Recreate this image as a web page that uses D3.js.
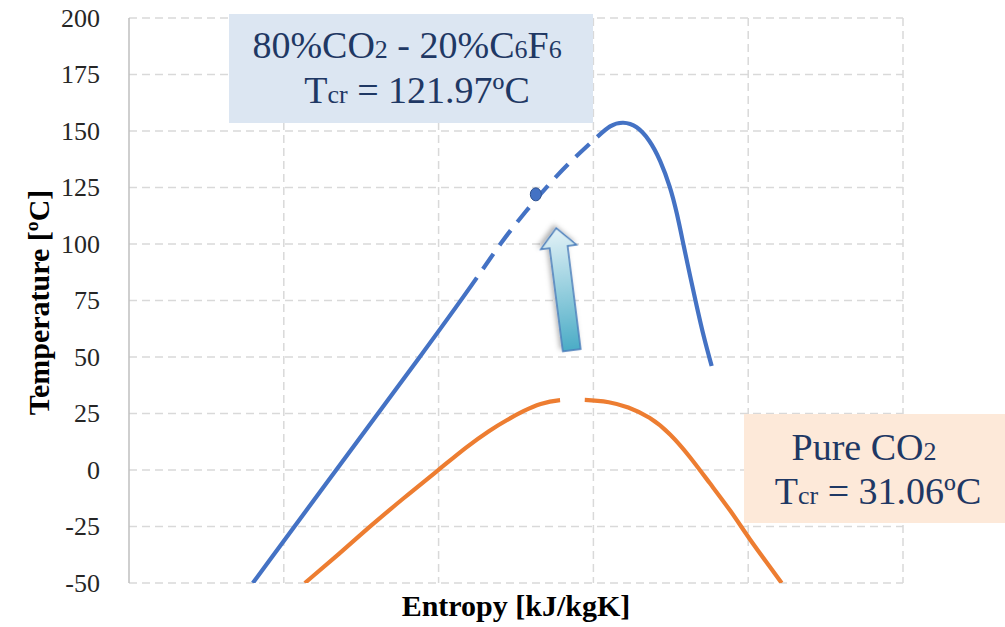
<!DOCTYPE html>
<html>
<head>
<meta charset="utf-8">
<script src="https://cdn.jsdelivr.net/npm/d3@7"></script>
<style>
  html, body { margin: 0; padding: 0; background: #fff; }
  svg { display: block; }
</style>
</head>
<body>
<svg id="chart" width="1005" height="627"></svg>
<script>
// Saturation curves on the T-s plane (entropy in kJ/kgK, temperature in ºC)

// 80%CO2 - 20%C6F6 mixture: bubble side, near-critical (dashed) part, dew side
const mixBubbleS = [0.950, 1.107, 1.221, 1.312];
const mixBubbleT = [-50, 8.4, 50.4, 84.9];
const mixCriticalS = [1.351, 1.390, 1.428, 1.467];
const mixCriticalT = [100.9, 114.2, 126.5, 137.6];
const mixDewS = [1.506, 1.527, 1.548, 1.570, 1.591, 1.608, 1.624, 1.635, 1.645, 1.656, 1.667, 1.678, 1.691];
const mixDewT = [147.3, 152.7, 154.2, 152.4, 146, 137.2, 125.4, 113.6, 100.3, 86, 72.3, 59, 46];

// Critical point of the mixture
const mixCritS = 1.407;
const mixCritT = 121.97;

// Pure CO2: liquid and vapour sides of the dome
const co2LiquidS = [1.034, 1.091, 1.139, 1.193, 1.250, 1.295, 1.333, 1.360, 1.387, 1.414, 1.446];
const co2LiquidT = [-50, -36.7, -25, -12.5, 0, 10.3, 17.7, 22.1, 26.1, 29.5, 31.2];
const co2VaporS = [1.486, 1.527, 1.555, 1.591, 1.624, 1.656, 1.688, 1.721, 1.753, 1.785, 1.804];
const co2VaporT = [31.2, 30.2, 28, 23.6, 16.2, 5.9, -5.9, -17.7, -31, -42.8, -50];

// Axis ticks
const tempTicks = [-50, -25, 0, 25, 50, 75, 100, 125, 150, 175, 200];
const entropyGrid = [0.75, 1.0, 1.25, 1.5, 1.75, 2.0];

// Arrow showing the rise of the critical temperature (tail -> head)
const shiftFromS = 1.465, shiftFromT = 53;
const shiftToS = 1.440, shiftToT = 107;

// Annotation texts
const mixLabel = ["80%CO", "2", " - 20%C", "6", "F", "6"];
const mixTcr = ["T", "cr", " = 121.97ºC"];
const co2Label = ["Pure CO", "2"];
const co2Tcr = ["T", "cr", " = 31.06ºC"];

const svg = d3.select("#chart");
const plotL = 129, plotR = 903, plotT = 18, plotB = 583;

const x = d3.scaleLinear().domain([0.75, 2.0]).range([plotL, plotR]);
const y = d3.scaleLinear().domain([-50, 200]).range([plotB, plotT]);

const defs = svg.append("defs");
defs.append("clipPath").attr("id", "plotClip")
  .append("rect").attr("x", plotL).attr("y", plotT - 10)
  .attr("width", plotR - plotL).attr("height", plotB - plotT + 10);

// Gradient runs along the arrow: light at the head, teal at the tail
const grad = defs.append("linearGradient").attr("id", "arrowFill")
  .attr("x1", 1).attr("y1", 0).attr("x2", 0).attr("y2", 0);
grad.append("stop").attr("offset", "0%").attr("stop-color", "#e3f2f7");
grad.append("stop").attr("offset", "100%").attr("stop-color", "#4bacc6");

const shadow = defs.append("filter").attr("id", "arrowShadow")
  .attr("x", "-50%").attr("y", "-50%").attr("width", "200%").attr("height", "200%");
shadow.append("feDropShadow").attr("dx", 3).attr("dy", -2)
  .attr("stdDeviation", 2.5).attr("flood-color", "#000").attr("flood-opacity", 0.3);

// Grid
const grid = svg.append("g").attr("stroke", "#d9d9d9").attr("stroke-width", 1.5)
  .attr("stroke-dasharray", "8,5").attr("fill", "none");
grid.selectAll("line.h").data(tempTicks).join("line")
  .attr("class", "h")
  .attr("x1", plotL).attr("x2", plotR)
  .attr("y1", d => y(d)).attr("y2", d => y(d));
grid.selectAll("line.v").data(entropyGrid.slice(1)).join("line")
  .attr("class", "v")
  .attr("x1", d => x(d)).attr("x2", d => x(d))
  .attr("y1", plotT).attr("y2", plotB);

// Left axis line
svg.append("line").attr("x1", plotL).attr("x2", plotL)
  .attr("y1", plotT).attr("y2", plotB)
  .attr("stroke", "#bfbfbf").attr("stroke-width", 1.5);

// Y tick labels (plain hyphen for negatives)
const yAxis = d3.axisLeft(y).tickValues(tempTicks).tickSize(0).tickPadding(29)
  .tickFormat(d => String(d));
const yAxisG = svg.append("g").attr("transform", `translate(${plotL},0)`).call(yAxis);
yAxisG.select(".domain").remove();
yAxisG.selectAll("text")
  .attr("font-family", "'Liberation Serif', serif")
  .attr("font-size", 26).attr("fill", "#262626");

// Axis titles
svg.append("text")
  .attr("x", (plotL + plotR) / 2).attr("y", 616)
  .attr("text-anchor", "middle")
  .attr("font-family", "'Liberation Serif', serif")
  .attr("font-weight", "bold").attr("font-size", 30).attr("fill", "#000")
  .text("Entropy [kJ/kgK]");
svg.append("text")
  .attr("transform", `translate(49,${(plotT + plotB) / 2 + 2}) rotate(-90)`)
  .attr("text-anchor", "middle")
  .attr("font-family", "'Liberation Serif', serif")
  .attr("font-weight", "bold").attr("font-size", 30).attr("fill", "#000")
  .text("Temperature [ºC]");

// Curves: each dome is one smoothed path; stroke-dasharray carves the
// dashed / interrupted stretches out of it by arc length.
const line = d3.line().x(d => x(d[0])).y(d => y(d[1])).curve(d3.curveBasis);
const zip = (s, t) => s.map((v, i) => [v, t[i]]);
const curves = svg.append("g").attr("clip-path", "url(#plotClip)")
  .attr("fill", "none").attr("stroke-width", 4.2);

function pathLength(pts) {
  const p = svg.append("path").attr("d", line(pts));
  const L = p.node().getTotalLength();
  p.remove();
  return L;
}

// Pure CO2 dome with a short break at the critical point
const co2All = zip(co2LiquidS, co2LiquidT).concat(zip(co2VaporS, co2VaporT));
const co2L1 = pathLength(zip(co2LiquidS, co2LiquidT));
const co2L2 = pathLength(co2All.slice(0, co2LiquidS.length + 1));
curves.append("path").datum(co2All)
  .attr("d", line).attr("stroke", "#ed7d31")
  .attr("stroke-dasharray", [co2L1, co2L2 - co2L1, 5000, 0].join(","));

// Mixture dome: solid, dashed near the critical point, then solid again
const mixAll = zip(mixBubbleS, mixBubbleT)
  .concat(zip(mixCriticalS, mixCriticalT), zip(mixDewS, mixDewT));
const mixL1 = pathLength(zip(mixBubbleS, mixBubbleT));
const mixL2 = pathLength(mixAll.slice(0, mixBubbleS.length + mixCriticalS.length + 1));
const span = mixL2 - mixL1;
const dashOn = 19, dashOff = 11;
const nDash = Math.max(1, Math.round((span - dashOff) / (dashOn + dashOff)));
const k = span / (nDash * dashOn + (nDash + 1) * dashOff);
const dashes = [mixL1];
for (let i = 0; i < nDash; i++) dashes.push(dashOff * k, dashOn * k);
dashes.push(dashOff * k, 5000);
curves.append("path").datum(mixAll)
  .attr("d", line).attr("stroke", "#4472c4")
  .attr("stroke-dasharray", dashes.join(","));

// Critical point marker
svg.append("ellipse")
  .attr("cx", x(mixCritS)).attr("cy", y(mixCritT))
  .attr("rx", 5.5).attr("ry", 6.5)
  .attr("fill", "#4472c4").attr("stroke", "#2f528f").attr("stroke-width", 1);

// Block arrow, built along the tail -> head direction
(function drawArrow() {
  const x0 = x(shiftFromS), y0 = y(shiftFromT);
  const x1 = x(shiftToS), y1 = y(shiftToT);
  const len = Math.hypot(x1 - x0, y1 - y0);
  const ang = Math.atan2(y1 - y0, x1 - x0) * 180 / Math.PI;
  const shaftHalf = 9, headHalf = 18, headLen = 19;
  const pts = [
    [0, -shaftHalf], [len - headLen, -shaftHalf], [len - headLen, -headHalf],
    [len, 0],
    [len - headLen, headHalf], [len - headLen, shaftHalf], [0, shaftHalf]
  ];
  svg.append("path")
    .attr("transform", `translate(${x0},${y0}) rotate(${ang})`)
    .attr("d", "M" + pts.map(p => p.join(",")).join("L") + "Z")
    .attr("fill", "url(#arrowFill)")
    .attr("stroke", "#4a7ebb").attr("stroke-width", 1.6)
    .attr("filter", "url(#arrowShadow)");
})();

// Annotation boxes
function labelBox(bx, by, bw, bh, fill, lines) {
  const g = svg.append("g");
  g.append("rect").attr("x", bx).attr("y", by).attr("width", bw).attr("height", bh)
    .attr("fill", fill);
  lines.forEach(l => {
    const t = g.append("text")
      .attr("x", l.cx).attr("y", l.base)
      .attr("text-anchor", "middle")
      .attr("font-family", "'Liberation Serif', serif")
      .attr("font-size", 38).attr("fill", "#1f3864");
    l.parts.forEach((p, i) => {
      const small = l.sub.includes(i);
      t.append("tspan").attr("font-size", small ? 26 : 38).text(p);
    });
  });
}

labelBox(229, 14, 364, 109, "#dce6f2", [
  { cx: 407, base: 58, parts: mixLabel, sub: [1, 3, 5] },
  { cx: 417, base: 103, parts: mixTcr, sub: [1] }
]);
labelBox(744, 414, 261, 109, "#fde9d9", [
  { cx: 864, base: 460, parts: co2Label, sub: [1] },
  { cx: 878, base: 504, parts: co2Tcr, sub: [1] }
]);
</script>
</body>
</html>
